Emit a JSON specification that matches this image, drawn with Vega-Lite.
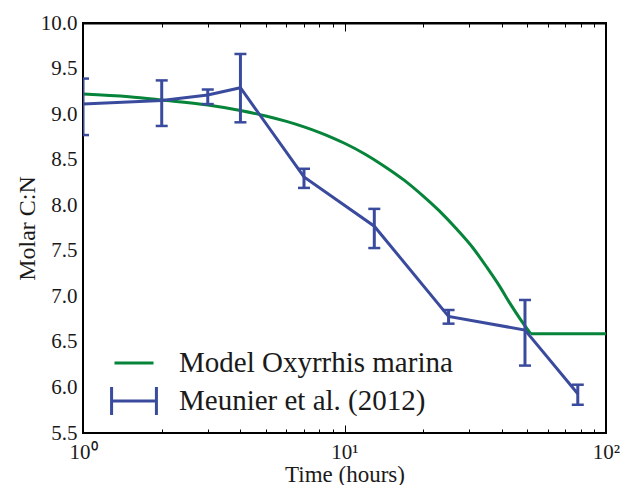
{
  "$schema": "https://vega.github.io/schema/vega-lite/v6.json",
  "width": 523,
  "height": 410,
  "autosize": "none",
  "padding": {"left": 83, "top": 23, "right": 14, "bottom": 52},
  "background": "white",
  "config": {
    "view": {"stroke": "black", "strokeWidth": 2},
    "font": "Liberation Serif",
    "axis": {"labelFont": "Liberation Serif", "titleFont": "Liberation Serif", "labelColor": "#1a1a1a", "titleColor": "#1a1a1a", "titleFontWeight": "normal", "grid": false},
    "legend": {"labelFont": "Liberation Serif", "labelColor": "#1a1a1a", "labelFontSize": 29, "labelLimit": 500, "padding": 0, "rowPadding": 0, "symbolSize": 1521, "symbolStrokeWidth": 3, "labelOffset": 24, "orient": "none"}
  },
  "datasets": {
    "model": [
      {"t": 1, "v": 9.22, "part": "decline", "series": "Model Oxyrrhis marina"},
      {"t": 1.5, "v": 9.19, "part": "decline", "series": "Model Oxyrrhis marina"},
      {"t": 2, "v": 9.155, "part": "decline", "series": "Model Oxyrrhis marina"},
      {"t": 3, "v": 9.1, "part": "decline", "series": "Model Oxyrrhis marina"},
      {"t": 4, "v": 9.04, "part": "decline", "series": "Model Oxyrrhis marina"},
      {"t": 5, "v": 8.98, "part": "decline", "series": "Model Oxyrrhis marina"},
      {"t": 6, "v": 8.92, "part": "decline", "series": "Model Oxyrrhis marina"},
      {"t": 7, "v": 8.86, "part": "decline", "series": "Model Oxyrrhis marina"},
      {"t": 8, "v": 8.8, "part": "decline", "series": "Model Oxyrrhis marina"},
      {"t": 9, "v": 8.74, "part": "decline", "series": "Model Oxyrrhis marina"},
      {"t": 10, "v": 8.68, "part": "decline", "series": "Model Oxyrrhis marina"},
      {"t": 12, "v": 8.56, "part": "decline", "series": "Model Oxyrrhis marina"},
      {"t": 14, "v": 8.44, "part": "decline", "series": "Model Oxyrrhis marina"},
      {"t": 17, "v": 8.27, "part": "decline", "series": "Model Oxyrrhis marina"},
      {"t": 20, "v": 8.1, "part": "decline", "series": "Model Oxyrrhis marina"},
      {"t": 23, "v": 7.94, "part": "decline", "series": "Model Oxyrrhis marina"},
      {"t": 27, "v": 7.73, "part": "decline", "series": "Model Oxyrrhis marina"},
      {"t": 31, "v": 7.53, "part": "decline", "series": "Model Oxyrrhis marina"},
      {"t": 35, "v": 7.32, "part": "decline", "series": "Model Oxyrrhis marina"},
      {"t": 39, "v": 7.12, "part": "decline", "series": "Model Oxyrrhis marina"},
      {"t": 43, "v": 6.92, "part": "decline", "series": "Model Oxyrrhis marina"},
      {"t": 47, "v": 6.75, "part": "decline", "series": "Model Oxyrrhis marina"},
      {"t": 51.5, "v": 6.59, "part": "decline", "series": "Model Oxyrrhis marina"},
      {"t": 51.5, "v": 6.59, "part": "plateau", "series": "Model Oxyrrhis marina"},
      {"t": 100, "v": 6.59, "part": "plateau", "series": "Model Oxyrrhis marina"}
    ],
    "obs": [
      {"t": 1, "v": 9.11, "lo": 8.77, "hi": 9.39, "series": "Meunier et al. (2012)"},
      {"t": 2, "v": 9.15, "lo": 8.87, "hi": 9.37, "series": "Meunier et al. (2012)"},
      {"t": 3, "v": 9.21, "lo": 9.11, "hi": 9.27, "series": "Meunier et al. (2012)"},
      {"t": 4, "v": 9.29, "lo": 8.91, "hi": 9.66, "series": "Meunier et al. (2012)"},
      {"t": 7, "v": 8.31, "lo": 8.19, "hi": 8.4, "series": "Meunier et al. (2012)"},
      {"t": 13, "v": 7.77, "lo": 7.53, "hi": 7.96, "series": "Meunier et al. (2012)"},
      {"t": 25, "v": 6.78, "lo": 6.7, "hi": 6.85, "series": "Meunier et al. (2012)"},
      {"t": 49, "v": 6.63, "lo": 6.24, "hi": 6.96, "series": "Meunier et al. (2012)"},
      {"t": 78, "v": 5.93, "lo": 5.81, "hi": 6.03, "series": "Meunier et al. (2012)"}
    ]
  },
  "resolve": {"axis": {"x": "independent"}},
  "layer": [
    {
      "data": {"name": "model"},
      "mark": {"type": "line", "strokeWidth": 3, "clip": true, "interpolate": "monotone"},
      "encoding": {
        "x": {"field": "t", "type": "quantitative", "scale": {"type": "log", "domain": [1, 100]},
          "axis": {"orient": "bottom", "title": "Time (hours)", "titleFontSize": 23, "titlePadding": -3,
            "values": [1,2,3,4,5,6,7,8,9,10,20,30,40,50,60,70,80,90,100],
            "labelExpr": "datum.value == 1 ? '10⁰' : datum.value == 10 ? '10¹' : datum.value == 100 ? '10²' : ''",
            "labelFontSize": 21, "labelPadding": 16, "labelFlush": false, "labelOverlap": false,
            "domain": false, "tickColor": "black", "tickWidth": 1,
            "tickSize": {"condition": {"test": "datum.value == 1 || datum.value == 10 || datum.value == 100", "value": -8}, "value": -4}}},
        "y": {"field": "v", "type": "quantitative", "scale": {"domain": [5.5, 10], "nice": false, "zero": false},
          "axis": {"title": "Molar C:N", "titleFontSize": 24, "titlePadding": 1, "values": [5.5,6,6.5,7,7.5,8,8.5,9,9.5,10], "format": ".1f", "labelFontSize": 21, "labelPadding": 6, "ticks": false, "domain": false, "labelFlush": false, "labelOverlap": false}},
        "detail": {"field": "part", "type": "nominal"},
        "color": {"field": "series", "type": "nominal",
          "scale": {"domain": ["Model Oxyrrhis marina"], "range": ["#05843A"]},
          "legend": {"title": null, "legendX": 30, "legendY": 319}}
      }
    },
    {
      "layer": [
        {
          "data": {"name": "obs"},
          "mark": {"type": "line", "strokeWidth": 3, "clip": true, "color": "#3A4B9E"},
          "encoding": {
            "x": {"field": "t", "type": "quantitative", "scale": {"type": "log", "domain": [1, 100]},
              "axis": {"orient": "top", "title": null, "labels": false, "ticks": true, "domain": true, "domainColor": "black", "domainWidth": 2,
                "values": [1,2,3,4,5,6,7,8,9,10,20,30,40,50,60,70,80,90,100],
                "tickColor": "black", "tickWidth": 1,
                "tickSize": {"condition": {"test": "datum.value == 1 || datum.value == 10 || datum.value == 100", "value": -8}, "value": -4}}},
            "y": {"field": "v", "type": "quantitative", "title": "Molar C:N"},
            "opacity": {"field": "series", "type": "nominal", "scale": {"range": [1]},
              "legend": {"title": null, "legendX": 30, "legendY": 357,
                "symbolType": "M-1.15,-0.72V0.72M-1.15,0H1.15M1.15,-0.72V0.72",
                "symbolStrokeColor": "#3A4B9E", "symbolFillColor": "transparent"}}
          }
        },
        {
          "data": {"name": "obs"},
          "mark": {"type": "rule", "strokeWidth": 3, "color": "#3A4B9E", "clip": true},
          "encoding": {
            "x": {"field": "t", "type": "quantitative"},
            "y": {"field": "lo", "type": "quantitative", "title": "Molar C:N"},
            "y2": {"field": "hi"}
          }
        },
        {
          "data": {"name": "obs"},
          "mark": {"type": "tick", "orient": "horizontal", "size": 12, "thickness": 2.5, "color": "#3A4B9E", "opacity": 1, "clip": true},
          "encoding": {
            "x": {"field": "t", "type": "quantitative"},
            "y": {"field": "lo", "type": "quantitative", "title": "Molar C:N"}
          }
        },
        {
          "data": {"name": "obs"},
          "mark": {"type": "tick", "orient": "horizontal", "size": 12, "thickness": 2.5, "color": "#3A4B9E", "opacity": 1, "clip": true},
          "encoding": {
            "x": {"field": "t", "type": "quantitative"},
            "y": {"field": "hi", "type": "quantitative", "title": "Molar C:N"}
          }
        }
      ]
    }
  ]
}
